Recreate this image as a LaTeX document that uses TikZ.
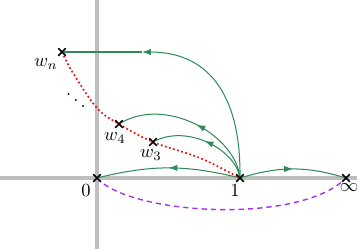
\documentclass[tikz,border=0pt]{standalone}
\usetikzlibrary{arrows.meta,decorations.markings,shapes.misc}
\definecolor{sgreen}{RGB}{46,139,87}
\definecolor{vpurple}{RGB}{165,45,245}
\definecolor{axisgray}{RGB}{190,190,190}
\begin{document}
\begin{tikzpicture}[x=0.54pt,y=-0.54pt,
  axisline/.style={draw=axisgray,line width=1.7pt},
  crossmark/.style={cross out,draw=black,line width=0.65pt,minimum size=3.4pt,inner sep=0pt},
  greenline/.style={draw=sgreen,line width=0.55pt},
  tipstyle/.style={-{Latex[length=4.8pt,width=3.4pt]}},
  midarrow/.style={postaction={decorate},decoration={markings,
     mark=at position #1 with {\arrow{Latex[length=4.8pt,width=3.4pt]}}}},
  lbl/.style={inner sep=0pt}]
\useasboundingbox (0,0) rectangle (359,249);
% axes
\draw[axisline] (0,178) -- (357,178);
\draw[axisline] (97,0) -- (97,249);
% points
\node[crossmark] (O) at (97,178) {};
\node[crossmark] (one) at (240,178) {};
\node[crossmark] (inf) at (346,178) {};
\node[crossmark] (wn) at (62,52) {};
\node[crossmark] (w4) at (119,124) {};
\node[crossmark] (w3) at (153,142) {};
\coordinate (a1) at (142,52);
% red dotted curve
\draw[red,line width=0.9pt,dash pattern=on 0.9pt off 1.4pt]
  plot[smooth,tension=0.6] coordinates {(62,52) (73,73) (97,108) (119,124) (153,142) (200,158) (240,178)};
% purple dashed
\draw[vpurple,line width=0.75pt,dash pattern=on 2.8pt off 2.2pt]
  (O.center) .. controls (130,215) and (300,225) .. (inf.center);
% green curves
\draw[greenline,tipstyle] (one.center) .. controls (241,90) and (205,52) .. (a1);
\draw[greenline] (a1) -- (wn.center);
\draw[greenline,midarrow=0.47] (one.center) .. controls (236,135) and (165,95) .. (w4.center);
\draw[greenline,midarrow=0.5] (one.center) .. controls (236,150) and (187,123) .. (w3.center);
\draw[greenline,midarrow=0.5] (one.center) to[bend right=14] (O.center);
\draw[greenline,midarrow=0.5] (one.center) to[bend left=17] (inf.center);
% redraw crosses on top
\foreach \p in {O,one,inf,wn,w4,w3} \node[crossmark] at (\p.center) {};
% labels
\node[lbl] (lwn) at (46,64) {$w_n$};
\node[lbl] (lw4) at (115,138) {$w_4$};
\node[lbl] (lw3) at (151,155) {$w_3$};
\node[lbl] (l0) at (86,191) {$0$};
\node[lbl] (l1) at (235,191) {$1$};
\node[lbl] (linf) at (349,187) {$\infty$};
\node[lbl] (dd) at (76,95) {$\ddots$};
\end{tikzpicture}
\end{document}
